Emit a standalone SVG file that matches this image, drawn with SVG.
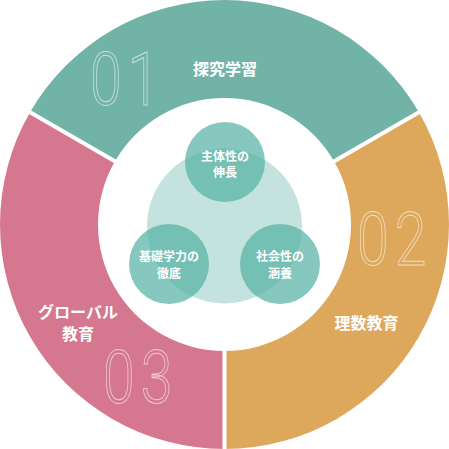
<svg xmlns="http://www.w3.org/2000/svg" width="449" height="449" viewBox="0 0 449 449">
<style>
.lbl{font-family:"Noto Sans CJK JP","Noto Sans",sans-serif;font-weight:bold;fill:#ffffff;text-anchor:middle}
.big{font-size:16px}
.sm{font-size:12px}
.num{font-family:Roboto,"Liberation Sans",sans-serif;font-weight:300;font-size:75px;letter-spacing:8px;fill:none;stroke:#ffffff;stroke-opacity:0.6;stroke-width:1}
.sub{fill:#52b1a4;fill-opacity:0.7}
.gap{stroke:#ffffff;stroke-width:4}
</style>
<rect width="449" height="449" fill="#ffffff"/>
<g id="ring-teal">
<path d="M 30.08 112.25 A 224.5 224.5 0 0 1 418.92 112.25 L 334.05 161.25 A 126.5 126.5 0 0 0 114.95 161.25 Z" fill="#72b3a8"/>
<text class="num" transform="translate(90 105) scale(0.76 1)" x="0" y="0">01</text>
<text class="lbl big" x="225" y="75">探究学習</text>
</g>
<g id="ring-orange">
<path d="M 418.92 112.25 A 224.5 224.5 0 0 1 224.5 449 L 224.5 351 A 126.5 126.5 0 0 0 334.05 161.25 Z" fill="#dea85c"/>
<text class="num" transform="translate(357 265) scale(0.76 1)" x="0" y="0">02</text>
<text class="lbl big" x="366.5" y="329">理数教育</text>
</g>
<g id="ring-pink">
<path d="M 224.5 449 A 224.5 224.5 0 0 1 30.08 112.25 L 114.95 161.25 A 126.5 126.5 0 0 0 224.5 351 Z" fill="#d5778e"/>
<text class="num" transform="translate(103 403) scale(0.76 1)" x="0" y="0">03</text>
<text class="lbl big" x="78" y="318">グローバル</text>
<text class="lbl big" x="78" y="340">教育</text>
</g>
<g id="connectors">
<line class="gap" x1="224.5" y1="345" x2="224.5" y2="455"/>
<line class="gap" x1="120" y1="164.2" x2="24" y2="108.8"/>
<line class="gap" x1="329" y1="164.2" x2="425" y2="108.8"/>
</g>
<g id="core">
<circle cx="224.5" cy="226" r="77.5" fill="#c5e3de"/>
</g>
<g id="node-top">
<circle class="sub" cx="225" cy="162" r="40"/>
<text class="lbl sm" x="225" y="160.5">主体性の</text>
<text class="lbl sm" x="225" y="176.5">伸長</text>
</g>
<g id="node-left">
<circle class="sub" cx="169" cy="264" r="40"/>
<text class="lbl sm" x="169" y="261">基礎学力の</text>
<text class="lbl sm" x="169" y="278">徹底</text>
</g>
<g id="node-right">
<circle class="sub" cx="280" cy="264" r="40"/>
<text class="lbl sm" x="280" y="261">社会性の</text>
<text class="lbl sm" x="280" y="278">涵養</text>
</g>
</svg>
